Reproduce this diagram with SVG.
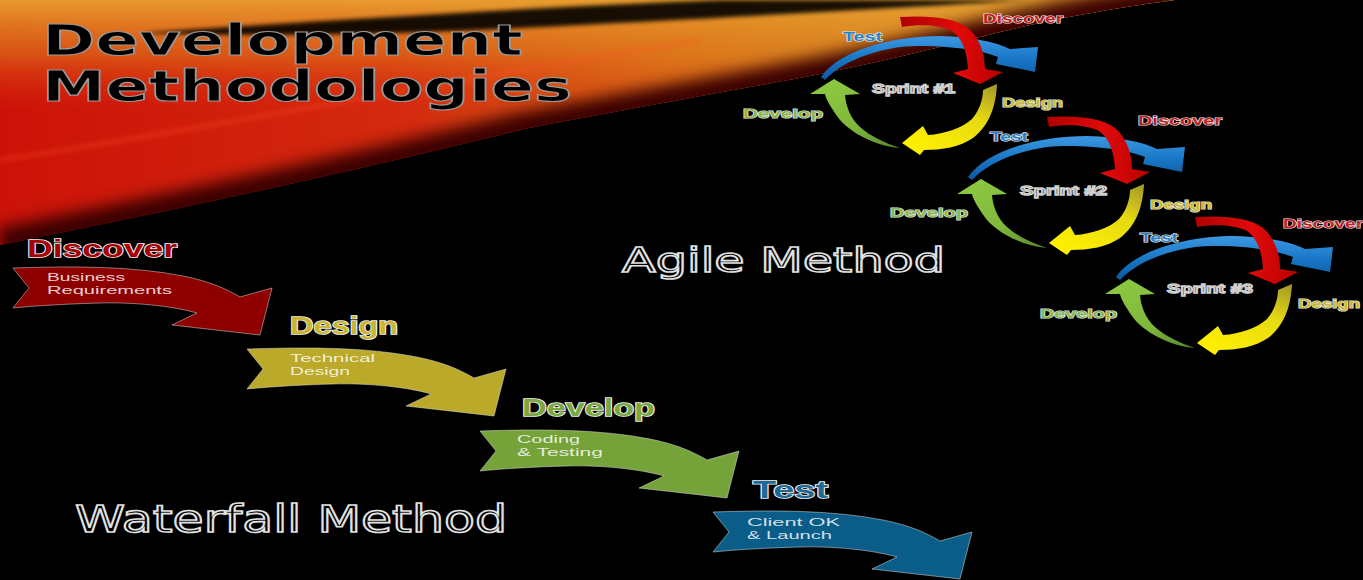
<svg xmlns="http://www.w3.org/2000/svg" xmlns:xlink="http://www.w3.org/1999/xlink" width="1363" height="580" viewBox="0 0 1363 580">
<style>
.title{font-family:"DejaVu Sans","Liberation Sans",sans-serif;font-weight:bold;font-size:42px;fill:#000;stroke:#9a9a9a;stroke-width:1.2px}
.method{font-family:"DejaVu Sans","Liberation Sans",sans-serif;fill:#000;stroke:#e2e2e2;stroke-width:1.6px}
.wlabel{font-family:"Liberation Sans","DejaVu Sans",sans-serif;font-weight:bold;font-size:24px;stroke:#f4f4f4;stroke-width:1.6px;paint-order:stroke}
.btext{font-family:"Liberation Sans","DejaVu Sans",sans-serif;font-size:11px;fill:#fff;fill-opacity:0.82}
.alabel{font-family:"Liberation Sans","DejaVu Sans",sans-serif;font-weight:bold;font-size:13px;stroke:#e8e8e8;stroke-width:1.2px;paint-order:stroke}
.sprint{font-family:"Liberation Sans","DejaVu Sans",sans-serif;font-weight:bold;font-size:13px;fill:#222;stroke:#d0d0d0;stroke-width:1.4px;paint-order:fill}
.banner{stroke:#e8e8e8;stroke-opacity:0.55;stroke-width:0.9}
</style>
<defs>
<linearGradient id="streakH" gradientUnits="userSpaceOnUse" x1="0" y1="0" x2="1175" y2="0">
<stop offset="0" stop-color="#cc1208"/>
<stop offset="0.35" stop-color="#d42a0e"/>
<stop offset="0.58" stop-color="#d87018"/>
<stop offset="0.78" stop-color="#c89a2e"/>
<stop offset="0.9" stop-color="#b0b038"/>
<stop offset="1" stop-color="#6a9a30"/>
</linearGradient>
<linearGradient id="streakTop" gradientUnits="userSpaceOnUse" x1="0" y1="0" x2="0" y2="220">
<stop offset="0" stop-color="#e8a030" stop-opacity="0.95"/>
<stop offset="0.25" stop-color="#e07a1c" stop-opacity="0.6"/>
<stop offset="0.5" stop-color="#e03010" stop-opacity="0"/>
</linearGradient>
<linearGradient id="gBlue" x1="0" y1="0" x2="0" y2="1">
<stop offset="0" stop-color="#3c98e0"/>
<stop offset="0.5" stop-color="#1a78c8"/>
<stop offset="1" stop-color="#0c58a0"/>
</linearGradient>
<linearGradient id="gRed" x1="0" y1="0" x2="1" y2="0">
<stop offset="0" stop-color="#b00000"/>
<stop offset="0.55" stop-color="#e00a0a"/>
<stop offset="1" stop-color="#b80000"/>
</linearGradient>
<linearGradient id="gYellow" x1="0.9" y1="0" x2="0.3" y2="1">
<stop offset="0" stop-color="#a89c28"/>
<stop offset="0.4" stop-color="#e6da12"/>
<stop offset="1" stop-color="#fff000"/>
</linearGradient>
<linearGradient id="gGreen" x1="0.2" y1="0" x2="0.9" y2="1">
<stop offset="0" stop-color="#8cc840"/>
<stop offset="0.6" stop-color="#80b83c"/>
<stop offset="1" stop-color="#5a8a30"/>
</linearGradient>
<filter id="blur2" x="-5%" y="-10%" width="110%" height="120%"><feGaussianBlur stdDeviation="2"/></filter>
<filter id="blur8" x="-10%" y="-50%" width="120%" height="200%"><feGaussianBlur stdDeviation="8"/></filter>
<clipPath id="streakClip"><path d="M0,0 L1175,0 C1100,10 1040,22 1000,32 C940,47 880,62 820,74 C700,97 620,110 520,130 C380,165 200,205 0,245 Z"/></clipPath>
<path id="banner" d="M0,0 C60,-2 120,-2 170,8 C195,13 212,20 227,29 L259,20 L247,67 L159,57 L184,45 C160,38 120,34 87,35 C50,36 20,38 0,40 L16,20 Z"/>
<g id="cycle">
<path d="M821,77 C838,52 888,36 940,36 C975,37 998,43 1010,49 L1038,47 L1035,72 L996,64 L998,57 C975,48 932,44 900,47 C866,52 840,64 825,80 Z" fill="url(#gBlue)"/>
<path d="M900,17 C930,15 955,18 968,28 C980,38 985,55 985,69 L1003,72 L980,84 L953,73 L968,69 C967,53 963,39 952,31 C940,25 920,24 902,27 Z" fill="url(#gRed)"/>
<path d="M997,84 C996,105 990,125 973,138 C960,147 942,150 924,150 L920,155 L902,143 L923,126 L928,135 C945,134 962,128 972,119 C980,110 983,98 983,90 Z" fill="url(#gYellow)"/>
<path d="M900,148 C875,146 848,132 837,116 C830,106 826,99 825,94 L810,94 L834,79 L860,94 L845,95 C846,106 850,118 860,127 C870,136 885,143 900,148 Z" fill="url(#gGreen)"/>
</g>
</defs>

<rect width="1363" height="580" fill="#000"/>

<g id="background">
<g clip-path="url(#streakClip)">
<rect x="0" y="0" width="1180" height="250" fill="url(#streakH)"/>
<rect x="0" y="0" width="1180" height="250" fill="url(#streakTop)"/>
<path d="M0,245 C200,205 380,165 520,130 C620,110 700,97 820,74 C880,62 940,47 1000,32 C1040,22 1100,10 1175,0" fill="none" stroke="#3a0000" stroke-width="34" filter="url(#blur8)"/>
<path d="M140,33 C330,20 560,6 720,0 L1030,0 C900,8 720,18 520,28 C360,36 240,36 140,33 Z" fill="#000" opacity="0.9" filter="url(#blur2)"/>
<path d="M0,160 C200,130 450,80 700,40" fill="none" stroke="#ff5020" stroke-opacity="0.25" stroke-width="6" filter="url(#blur2)"/>
</g>
</g>

<g id="title">
<text class="title" x="42" y="55" textLength="481" lengthAdjust="spacingAndGlyphs">Development</text>
<text class="title" x="42" y="101" textLength="530" lengthAdjust="spacingAndGlyphs">Methodologies</text>
</g>

<g id="wf-discover">
<text class="wlabel" x="27" y="257" fill="#a80000" textLength="150" lengthAdjust="spacingAndGlyphs">Discover</text>
<use xlink:href="#banner" href="#banner" x="13" y="268" fill="#8e0000" class="banner"/>
<text class="btext" x="47" y="281" textLength="78" lengthAdjust="spacingAndGlyphs">Business</text>
<text class="btext" x="47" y="294" textLength="125" lengthAdjust="spacingAndGlyphs">Requirements</text>
</g>

<g id="wf-design">
<text class="wlabel" x="290" y="334" fill="#c9b52e" textLength="108" lengthAdjust="spacingAndGlyphs">Design</text>
<use xlink:href="#banner" href="#banner" x="247" y="349" fill="#bba92a" class="banner"/>
<text class="btext" x="290" y="362" textLength="85" lengthAdjust="spacingAndGlyphs">Technical</text>
<text class="btext" x="290" y="375" textLength="60" lengthAdjust="spacingAndGlyphs">Design</text>
</g>

<g id="wf-develop">
<text class="wlabel" x="522" y="416" fill="#79a840" textLength="133" lengthAdjust="spacingAndGlyphs">Develop</text>
<use xlink:href="#banner" href="#banner" x="480" y="431" fill="#76a23a" class="banner"/>
<text class="btext" x="517" y="443" textLength="63" lengthAdjust="spacingAndGlyphs">Coding</text>
<text class="btext" x="517" y="456" textLength="86" lengthAdjust="spacingAndGlyphs">&amp; Testing</text>
</g>

<g id="wf-test">
<text class="wlabel" x="753" y="498" fill="#1e6a96" textLength="75" lengthAdjust="spacingAndGlyphs">Test</text>
<use xlink:href="#banner" href="#banner" x="713" y="512" fill="#0b5d89" class="banner"/>
<text class="btext" x="747" y="526" textLength="93" lengthAdjust="spacingAndGlyphs">Client OK</text>
<text class="btext" x="747" y="539" textLength="85" lengthAdjust="spacingAndGlyphs">&amp; Launch</text>
</g>

<g id="waterfall-caption">
<text class="method" x="75" y="532" font-size="37" textLength="432" lengthAdjust="spacingAndGlyphs">Waterfall Method</text>
</g>

<g id="agile-caption">
<text class="method" x="622" y="272" font-size="34" textLength="323" lengthAdjust="spacingAndGlyphs">Agile Method</text>
</g>

<g id="sprint1">
<use xlink:href="#cycle" href="#cycle"/>
<text class="alabel" x="843" y="41" fill="#2a80c8" textLength="39" lengthAdjust="spacingAndGlyphs">Test</text>
<text class="alabel" x="983" y="23" fill="#c02020" textLength="80" lengthAdjust="spacingAndGlyphs">Discover</text>
<text class="alabel" x="1002" y="107" fill="#c8bc30" textLength="61" lengthAdjust="spacingAndGlyphs">Design</text>
<text class="alabel" x="743" y="118" fill="#8ab848" textLength="80" lengthAdjust="spacingAndGlyphs">Develop</text>
<text class="sprint" x="872" y="93" textLength="83" lengthAdjust="spacingAndGlyphs">Sprint #1</text>
</g>

<g id="sprint2">
<use xlink:href="#cycle" href="#cycle" transform="translate(147,100)"/>
<text class="alabel" x="990" y="141" fill="#2a80c8" textLength="38" lengthAdjust="spacingAndGlyphs">Test</text>
<text class="alabel" x="1138" y="125" fill="#c02020" textLength="84" lengthAdjust="spacingAndGlyphs">Discover</text>
<text class="alabel" x="1150" y="209" fill="#c8bc30" textLength="62" lengthAdjust="spacingAndGlyphs">Design</text>
<text class="alabel" x="890" y="217" fill="#8ab848" textLength="78" lengthAdjust="spacingAndGlyphs">Develop</text>
<text class="sprint" x="1020" y="195" textLength="87" lengthAdjust="spacingAndGlyphs">Sprint #2</text>
</g>

<g id="sprint3">
<use xlink:href="#cycle" href="#cycle" transform="translate(295,200)"/>
<text class="alabel" x="1140" y="242" fill="#2a80c8" textLength="38" lengthAdjust="spacingAndGlyphs">Test</text>
<text class="alabel" x="1283" y="228" fill="#c02020" textLength="80" lengthAdjust="spacingAndGlyphs">Discover</text>
<text class="alabel" x="1298" y="308" fill="#c8bc30" textLength="62" lengthAdjust="spacingAndGlyphs">Design</text>
<text class="alabel" x="1040" y="318" fill="#8ab848" textLength="77" lengthAdjust="spacingAndGlyphs">Develop</text>
<text class="sprint" x="1167" y="293" textLength="86" lengthAdjust="spacingAndGlyphs">Sprint #3</text>
</g>
</svg>
